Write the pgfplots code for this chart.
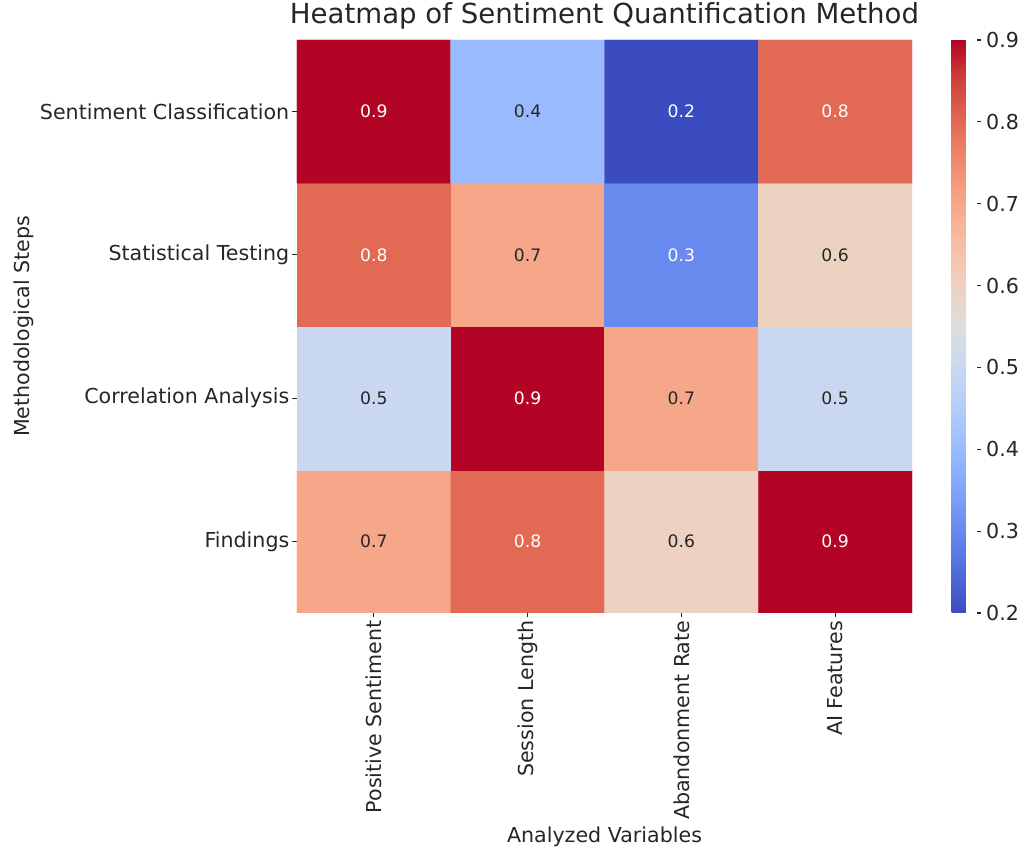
\documentclass[border=0pt]{standalone}
\usepackage{pgfplots}
\pgfplotsset{compat=1.18}
\usepackage{fontspec}
\setmainfont{DejaVu Sans}
\definecolor{txt}{RGB}{38,38,38}
\pgfplotsset{colormap={coolwarm}{
rgb255=(59,76,192) rgb255=(77,104,215) rgb255=(98,130,234) rgb255=(119,154,247)
rgb255=(141,176,254) rgb255=(163,194,255) rgb255=(184,208,249) rgb255=(204,217,238)
rgb255=(221,221,221) rgb255=(236,211,197) rgb255=(245,196,172) rgb255=(247,177,147)
rgb255=(244,154,123) rgb255=(236,127,99) rgb255=(222,96,77) rgb255=(203,62,56)
rgb255=(180,4,38)}}
\newcommand{\tickfont}{\fontsize{20.6}{24}\selectfont}
\begin{document}
\begin{tikzpicture}
\useasboundingbox (0,0) rectangle (1021pt,848pt);
\begin{axis}[
  at={(297pt,235pt)}, anchor=south west,
  scale only axis, width=615pt, height=573pt,
  xmin=-0.5, xmax=3.5, ymin=-0.5, ymax=3.5,
  enlargelimits=false,
  axis line style={draw=none},
  tick align=outside,
  xtick pos=left, ytick pos=left,
  major tick length=4.5pt,
  tick style={txt, line width=1.2pt},
  xtick={0,1,2,3}, ytick={0,1,2,3},
  xticklabels={Positive Sentiment, Session Length, Abandonment Rate, AI Features},
  yticklabels={Findings, Correlation Analysis, Statistical Testing, Sentiment Classification},
  xticklabel style={rotate=90, anchor=east, font=\tickfont, text=txt, inner sep=0pt},
  yticklabel style={anchor=east, font=\tickfont, text=txt, inner sep=0pt},
  xticklabel shift=3pt, yticklabel shift=3pt,
  title={Heatmap of Sentiment Quantification Method},
  title style={at={(axis description cs:0.5,1)}, anchor=base, yshift=10pt, font=\fontsize{27.6}{32}\selectfont, text=txt},
  xlabel={Analyzed Variables},
  xlabel style={at={(axis description cs:0.5,-0.3997)}, anchor=base, font=\tickfont, text=txt},
  ylabel={Methodological Steps},
  ylabel style={at={(axis description cs:-0.4440,0.5)}, anchor=center, font=\tickfont, text=txt},
  colormap name=coolwarm,
  point meta min=0.2, point meta max=0.9,
  colorbar,
  colorbar style={
    at={(parent axis.north east)}, anchor=north west, xshift=31pt,
    scale only axis, width=25pt,
    axis line style={draw=none},
    ytick={0.2,0.3,0.4,0.5,0.6,0.7,0.8,0.9},
    yticklabel pos=right, ytick pos=right,
    tick align=outside, major tick length=4pt,
    tick style={txt, line width=1.2pt},
    yticklabel style={font=\tickfont, text=txt, inner sep=0pt,
      /pgf/number format/.cd, fixed, fixed zerofill, precision=1, assume math mode=true},
    yticklabel shift=5.5pt,
  },
]
\addplot[matrix plot*, mesh/cols=4, mesh/rows=4, point meta=explicit] table[meta=c] {
x y c
0 0 0.7
1 0 0.8
2 0 0.6
3 0 0.9
0 1 0.5
1 1 0.9
2 1 0.7
3 1 0.5
0 2 0.8
1 2 0.7
2 2 0.3
3 2 0.6
0 3 0.9
1 3 0.4
2 3 0.2
3 3 0.8
};
\addplot[only marks, mark=none, forget plot, nodes near coords, point meta=explicit symbolic,
  nodes near coords style={anchor=center, text=white, font=\fontsize{17.2}{20}\selectfont}]
  table[meta=l] {
x y l
1 0 0.8
3 0 0.9
1 1 0.9
0 2 0.8
2 2 0.3
0 3 0.9
2 3 0.2
3 3 0.8
};
\addplot[only marks, mark=none, forget plot, nodes near coords, point meta=explicit symbolic,
  nodes near coords style={anchor=center, text=txt, font=\fontsize{17.2}{20}\selectfont}]
  table[meta=l] {
x y l
0 0 0.7
2 0 0.6
0 1 0.5
2 1 0.7
3 1 0.5
1 2 0.7
3 2 0.6
1 3 0.4
};
\end{axis}
\end{tikzpicture}
\end{document}
